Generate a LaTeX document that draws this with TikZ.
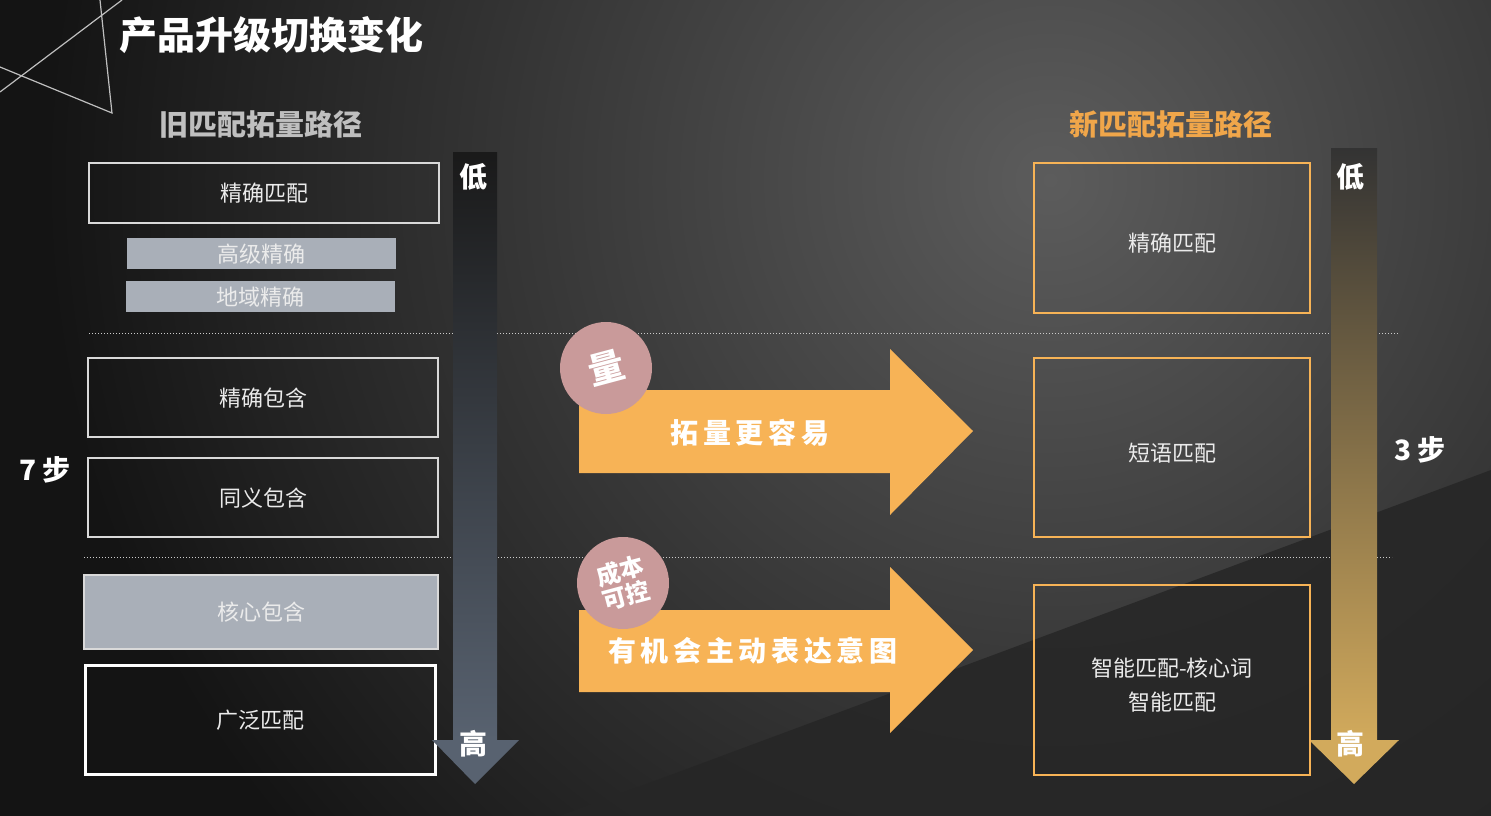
\documentclass[tikz,border=0pt]{standalone}
\usepackage{fontspec}
\setmainfont{Noto Sans CJK SC}
\usetikzlibrary{shapes.geometric}
\definecolor{org}{HTML}{F7B356}
\definecolor{pinkc}{HTML}{C99A9A}
\definecolor{grayf}{HTML}{A9AFB8}
\definecolor{ttl}{HTML}{F0A64A}
\definecolor{slate}{RGB}{88,98,112}
\definecolor{gold}{RGB}{210,170,92}
\definecolor{bgmid}{RGB}{92,92,92}
\tikzset{
 wbox/.style={draw=white!85!black,line width=1.2pt},
 obox/.style={draw=org,line width=1.2pt},
 fbox/.style={fill=grayf,draw=none},
 btxt/.style={text=white!92!black,font=\fontsize{22}{26}\selectfont},
 bold/.style={text=white,font=\bfseries\fontsize{28}{32}\selectfont},
 dotl/.style={white!80!black,dotted,line width=1pt},
 circ/.style={circle,fill=pinkc,minimum size=92pt,inner sep=0pt}
}
\begin{document}
\begin{tikzpicture}[x=1pt,y=-1pt]
\useasboundingbox (0,0) rectangle (1491,816);
\begin{scope}
\clip (0,0) rectangle (1491,816);
\fill[black!92] (0,0) rectangle (1491,816);
\shade[inner color=bgmid,outer color=black!92] (1050,180) circle (1000);
\fill[black!85,opacity=0.85] (560,816) -- (1491,470) -- (1491,816) -- cycle;
\end{scope}
% decorative lines
\draw[white!75!black,line width=1.2pt] (0,67) -- (112,113) -- (100,0);
\draw[white!75!black,line width=1.2pt] (0,92) -- (122,0);
\node[anchor=west,text=white,font=\bfseries\fontsize{38}{42}\selectfont] (title) at (116,35) {产品升级切换变化};
\node[text=white!75!black,font=\bfseries\fontsize{29}{32}\selectfont] (ltitle) at (261,124) {旧匹配拓量路径};
\node[text=ttl,font=\bfseries\fontsize{29}{32}\selectfont] (rtitle) at (1171,124) {新匹配拓量路径};
% left boxes
\draw[wbox] (89,163) rectangle (439,223); \node[btxt] (l1) at (264,193) {精确匹配};
\fill[fbox] (127,238) rectangle (396,269); \node[btxt] (l2) at (261,254) {高级精确};
\fill[fbox] (126,281) rectangle (395,312); \node[btxt] (l3) at (260,297) {地域精确};
\draw[wbox] (88,358) rectangle (438,437); \node[btxt] (l4) at (263,398) {精确包含};
\draw[wbox] (88,458) rectangle (438,537); \node[btxt] (l5) at (263,498) {同义包含};
\fill[fbox,draw=white!85!black,line width=1.2pt] (84,575) rectangle (438,649); \node[btxt] (l6) at (261,612) {核心包含};
\draw[draw=white,line width=3pt] (85,665) rectangle (435,774); \node[btxt] (l7) at (260,720) {广泛匹配};
\draw[dotl] (89,333) -- (1398,333);
\draw[dotl] (84,557) -- (1392,557);
% left vertical arrow
\shade[top color=black!80!gray,bottom color=slate] (453,152) rectangle (497,740);
\fill[slate] (432,740) -- (519,740) -- (475,784) -- cycle;
\node[bold] (llow) at (473,177) {低};
\node[bold] (lhigh) at (473,744) {高};
\node[bold] (seven) at (45,470) {7 步};
% right vertical arrow
\shade[top color=black!60!gray,bottom color=gold] (1331,148) rectangle (1377,740);
\fill[gold] (1309,740) -- (1399,740) -- (1354,784) -- cycle;
\node[bold] (rlow) at (1350,177) {低};
\node[bold] (rhigh) at (1350,744) {高};
\node[bold] (three) at (1420,450) {3 步};
% right boxes
\draw[obox] (1034,163) rectangle (1310,313); \node[btxt] (r1) at (1172,243) {精确匹配};
\draw[obox] (1034,358) rectangle (1310,537); \node[btxt] (r2) at (1172,453) {短语匹配};
\draw[obox] (1034,585) rectangle (1310,775);
\node[btxt,align=center] (r3) at (1172,685) {智能匹配-核心词\\[8pt]智能匹配};
% orange arrows
\fill[org] (579,390) -- (890,390) -- (890,349) -- (973,431) -- (890,515) -- (890,473) -- (579,473) -- cycle;
\fill[org] (579,610) -- (890,610) -- (890,567) -- (973,650) -- (890,733) -- (890,692) -- (579,692) -- cycle;
\node[bold] (a1) at (750,433) {拓\,量\,更\,容\,易};
\node[bold] (a2) at (753,651) {有\,机\,会\,主\,动\,表\,达\,意\,图};
\node[circ] (c1) at (606,368) {};
\node[bold,rotate=15,font=\bfseries\fontsize{36}{40}\selectfont] at (c1) {量};
\node[circ] (c2) at (623,583) {};
\node[bold,rotate=15,align=center,inner sep=0pt,font=\bfseries\fontsize{24}{25}\selectfont] at (c2) {成本\\可控};
\end{tikzpicture}
\end{document}
